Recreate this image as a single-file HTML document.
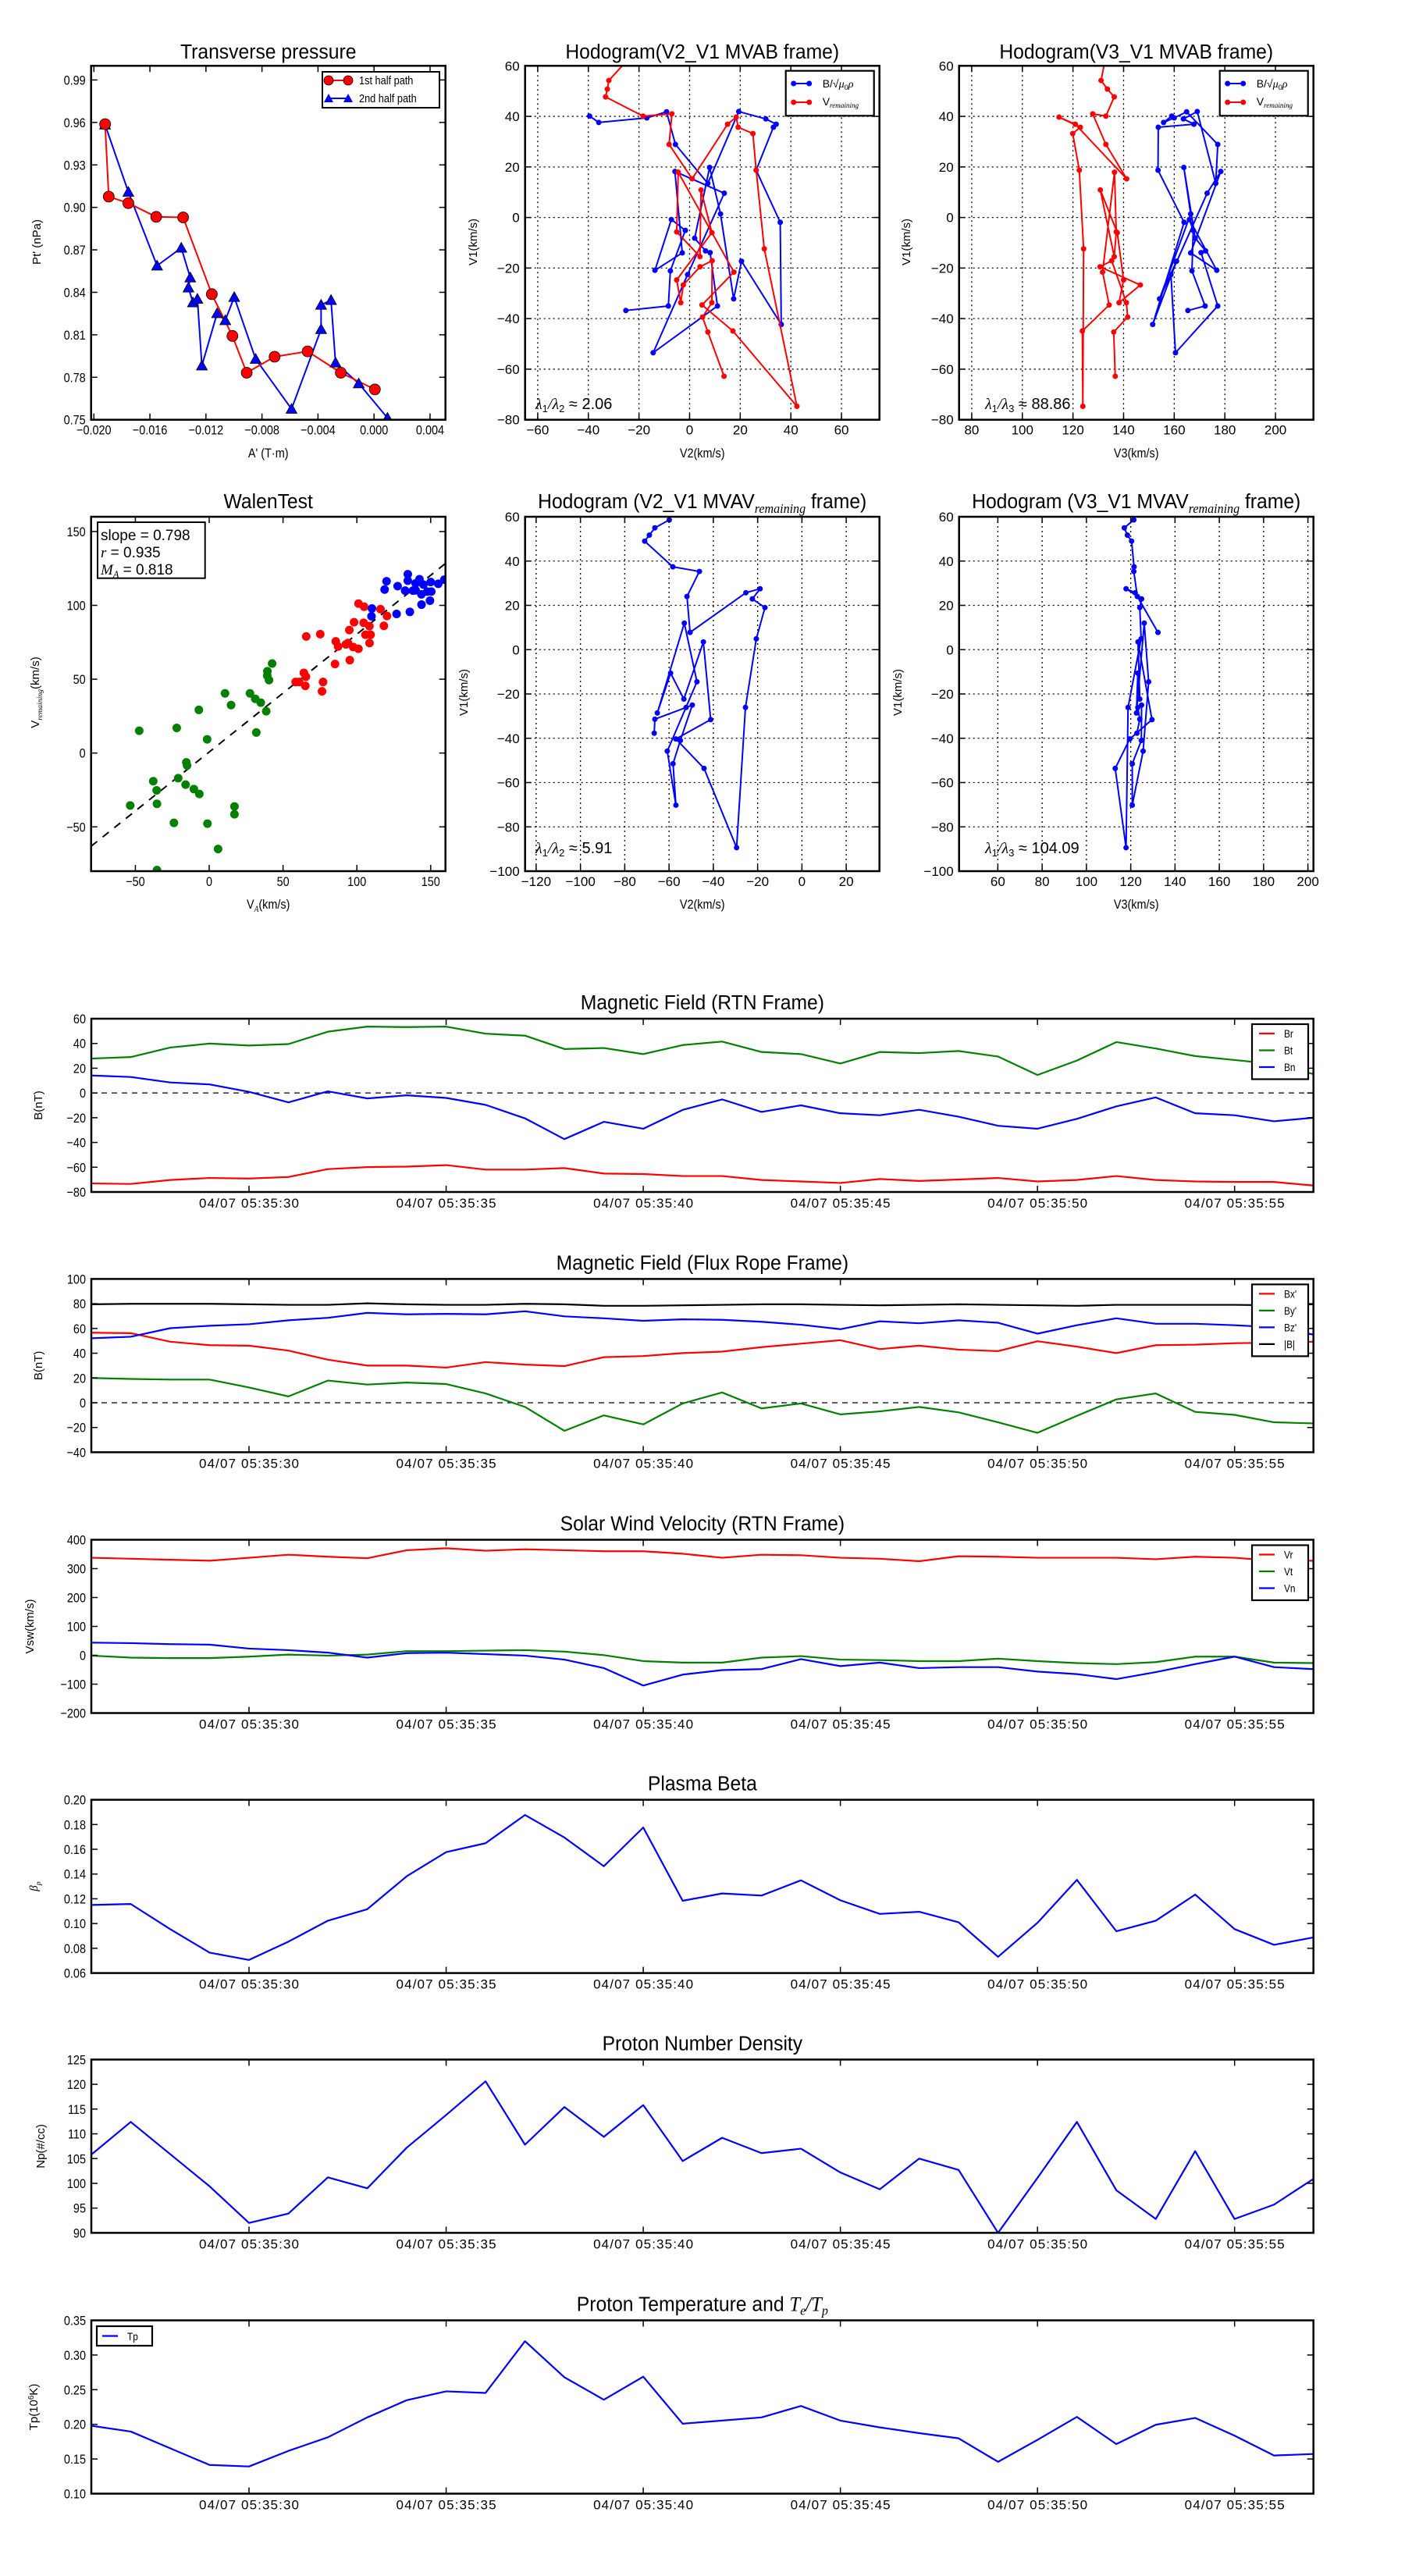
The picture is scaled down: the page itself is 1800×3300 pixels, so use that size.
<!DOCTYPE html>
<html><head><meta charset="utf-8">
<style>body{margin:0;background:#fff}svg{display:block}text{font-family:"Liberation Sans",sans-serif;fill:#000}</style>
</head><body>
<svg id="fig" xmlns="http://www.w3.org/2000/svg" width="1800" height="3300" viewBox="0 0 1800 3300"><rect width="1800" height="3300" fill="#fff"/><defs id="defs"></defs></svg>
<script>
// ---------- Transverse pressure ----------
const tpA1=[-0.0192,-0.01894,-0.01754,-0.01555,-0.01363,-0.01158,-0.01011,-0.00909,-0.0071,-0.00474,-0.00237,0.00006];
const tpP1=[0.9588,0.9076,0.903,0.8933,0.8929,0.8387,0.8092,0.7832,0.7945,0.7983,0.7832,0.7714];
const tpA2=[-0.0192,-0.01754,-0.01549,-0.01376,-0.01312,-0.01325,-0.01293,-0.01261,-0.01229,-0.0112,-0.01062,-0.00998,-0.00845,-0.00589,-0.00378,-0.00378,-0.00307,-0.00275,-0.00109,0.00096];
const tpP2=[0.9584,0.9109,0.8588,0.8714,0.8504,0.8433,0.8328,0.8353,0.7882,0.8252,0.8202,0.8366,0.7929,0.7576,0.8139,0.8311,0.8345,0.7903,0.7756,0.7513];
const tpXTicks=[-0.020,-0.016,-0.012,-0.008,-0.004,0.000,0.004];
const tpYTicks=[0.75,0.78,0.81,0.84,0.87,0.90,0.93,0.96,0.99];
// ---------- MVAB hodograms ----------
const abV1r=[64,54.2,50.8,47.7,40.1,41.0,28.9,15.3,36.9,39.7,35.7,33.2,18.7,-12.4,-74.7,-44.9,-34.6,-21.6,17.9,-5.7,-15.5,10.9,-6.0,-24.7,-33.7,-26.7,-19.5,-17.1,-33.7,-39.4,-45.3,-62.8];
const abV2r=[-23,-31.9,-32.5,-33.2,-18.4,-7.0,-8.1,1.0,15.0,18.4,19.2,25.0,26.3,29.5,42.4,17.1,4.9,17.5,-4.5,-5.1,4.1,4.5,8.8,-5.1,-3.5,-2.5,4.1,8.9,8.8,5.1,7.2,13.6];
const abV3r=[133,131.1,133.6,136.3,133.0,127.8,133.0,141.2,120.9,114.5,122.9,119.9,122.5,124.2,123.9,123.7,134.3,131.7,136.4,137.1,136.3,130.8,137.5,140.0,138.2,146.6,130.7,135.3,141.1,141.6,136.1,136.7];
const abV1b=[40.1,37.6,39.4,41.8,28.9,13.5,41.9,39.0,36.9,35.7,18.7,-1.9,-42.3,-17.3,-32.2,1.4,19.8,-8.2,-13.2,-13.9,-35.0,-53.5,-22.6,9.6,18.2,-14.0,-20.9,-0.8,-5.1,-21.1,-35.0,-36.8];
const abV2b=[-39.5,-35.9,-16.9,-9.1,-5.6,7.2,19.4,30.1,34.2,33.1,26.3,35.8,36.2,20.5,17.4,12.2,7.9,2.0,6.3,8.1,11.0,-14.4,-0.8,13.7,-5.8,-2.9,-13.7,-7.2,-1.7,-7.6,-8.4,-25.2];
const abV3b=[159.0,155.8,160.0,164.9,177.2,176.4,169.1,163.6,167.8,153.7,153.6,163.9,151.5,160.9,154.2,166.5,163.8,168.3,172.4,170.6,177.2,160.5,158.7,173.0,178.4,166.5,176.8,166.0,167.5,167.0,172.2,165.4];
const abYTicks=[-80,-60,-40,-20,0,20,40,60];
const ab2XTicks=[-60,-40,-20,0,20,40,60];
const ab3XTicks=[80,100,120,140,160,180,200];
// ---------- Walen test ----------
const wGx=[-47.4,-22.0,-7.0,-1.4,10.7,14.8,27.6,31.2,34.9,38.6,31.9,42.6,39.4,39.3,40.5,-15.5,-15.0,-21.0,-16.0,-10.4,-6.7,-37.9,-35.6,-35.4,-53.5,-23.9,-1.2,17.1,17.1,6.0,-35.4];
const wGy=[15.1,17.0,29.2,9.3,40.4,32.5,40.4,36.7,34.1,28.3,13.9,60.6,55.4,52.4,49.4,-6.3,-8.4,-17.0,-21.4,-24.4,-27.7,-19.1,-25.3,-34.4,-35.5,-47.3,-47.8,-36.2,-41.5,-65.0,-79.3];
const wRx=[65.7,75.2,85.7,87.3,85.2,95.2,94.9,98.1,101.1,104.9,104.6,108.5,105.8,109.3,108.6,94.0,92.6,101.1,97.5,116.0,120.4,118.3,64.1,65.5,65.1,58.5,60.9,77.1,76.4];
const wRy=[78.9,80.5,75.6,72.1,60.3,62.9,83.3,88.6,101.2,99.1,88.2,85.9,80.1,80.1,74.5,74.5,73.6,70.6,71.8,97.4,92.8,86.1,54.3,51.7,45.5,48.1,48.1,48.1,41.8];
const wBx=[120.1,118.8,110.2,109.9,126.9,135.9,127.6,134.5,134.5,132.7,138.0,142.4,139.8,145.1,150.0,155.1,159.2,150.4,143.7,149.5,143.8,139.8,147.7];
const wBy=[116.3,110.7,97.9,92.6,94.2,95.6,113.0,121.1,116.7,110.0,110.0,117.7,114.9,114.1,115.8,114.6,117.4,109.3,107.5,103.2,100.5,110.2,109.3];
const wSlope=0.798, wIntercept=0.7;
const wTicks=[-50,0,50,100,150];
// ---------- MVAV hodograms ----------
const avV1=[58.6,55.0,51.7,49.0,37.4,35.3,24.0,7.8,25.7,27.5,22.9,19.0,4.9,-26.1,-89.4,-53.6,-40.3,-31.6,3.5,-22.3,-10.6,-28.6,12.0,-14.5,-45.8,-70.2,-51.5,-41.0,-25.0,-26.1,-31.4,-37.7];
const avV2=[-59.9,-66.4,-68.9,-71.0,-58.3,-46.3,-51.9,-50.5,-25.3,-18.9,-22.4,-16.7,-20.6,-25.5,-29.5,-44.2,-56.9,-41.2,-44.5,-53.3,-59.3,-65.3,-53.1,-47.4,-60.8,-56.9,-58.2,-54.9,-49.5,-52.3,-66.4,-66.7];
const avV3=[121.4,117.1,118.5,120.4,121.5,121.4,123.0,132.3,122.0,117.9,124.9,124.1,124.7,118.8,117.9,113.0,119.6,129.6,123.3,124.1,123.2,122.6,126.1,128.1,125.6,120.7,120.7,124.8,124.9,123.2,124.1,122.8];
const avYTicks=[-100,-80,-60,-40,-20,0,20,40,60];
const av2XTicks=[-120,-100,-80,-60,-40,-20,0,20];
const av3XTicks=[60,80,100,120,140,160,180,200];
// ---------- Time series ----------
const tsec=[26,27,28,29,30,31,32,33,34,35,36,37,38,39,40,41,42,43,44,45,46,47,48,49,50,51,52,53,54,55,56,57];
const timeTicks=[30,35,40,45,50,55];
const timeLabels=["04/07 05:35:30","04/07 05:35:35","04/07 05:35:40","04/07 05:35:45","04/07 05:35:50","04/07 05:35:55"];
const Br=[-73.1,-73.5,-70.3,-68.7,-69.1,-67.9,-61.5,-59.9,-59.5,-58.3,-61.9,-61.9,-60.7,-65.1,-65.5,-67.1,-67.1,-70.3,-71.5,-72.7,-69.5,-71.1,-69.9,-68.7,-71.5,-70.3,-67.1,-70.3,-71.5,-71.9,-71.9,-74.8];
const Bt=[27.8,29,36.7,39.9,38.3,39.5,49.5,53.6,53.2,53.6,47.9,46.3,35.5,36.3,31.4,38.7,41.5,33.1,31.4,23.8,33.1,32.2,33.9,29.4,14.5,26.2,41.1,35.9,29.8,26.6,23.4,15.3];
const Bn=[14.1,12.9,8.5,6.9,0.9,-7.6,1.3,-4.4,-1.9,-4.0,-9.6,-20.5,-37.3,-23.3,-28.9,-13.7,-5.2,-15.3,-10.0,-16.4,-18.0,-13.6,-19.2,-26.5,-28.9,-20.9,-10.8,-3.6,-16.4,-18.0,-22.9,-20.0];
const Bx=[56.6,56.2,49.3,46.5,46.1,42.1,34.8,30.0,30.0,28.4,32.8,30.8,29.6,36.8,37.7,40.1,41.3,44.9,47.7,50.5,43.3,46.1,42.9,41.7,49.7,45.3,40.1,46.5,46.9,48.1,48.5,49.3];
const By=[20.0,19.2,18.7,18.7,12.3,5.1,17.9,14.7,16.3,15.1,7.5,-3.4,-22.7,-10.2,-17.5,-0.6,8.3,-4.6,-0.6,-9.4,-7.0,-3.4,-7.8,-15.8,-24.3,-10.6,2.7,7.5,-7.4,-9.8,-15.8,-16.7];
const Bz=[52.1,53.3,60.2,62.2,63.4,66.6,68.6,72.6,71.4,71.8,71.4,73.9,69.8,68.2,66.2,67.4,67.0,65.4,63.0,59.4,65.8,64.2,66.6,64.6,55.8,62.6,68.2,63.8,63.8,62.6,61.0,55.0];
const Bmag=[79.5,79.9,79.9,79.9,79.5,79.1,79.1,80.3,79.5,79.1,79.1,79.9,79.5,78.3,78.3,78.7,79.1,79.5,79.5,79.1,78.7,79.1,79.5,79.1,78.7,78.3,79.1,79.1,79.1,79.1,78.7,79.5];
const Vr=[337.7,334.3,330.8,327.4,337.7,348.1,341.2,336.0,363.7,370.6,362.0,367.1,363.7,360.2,360.2,351.6,337.7,348.1,346.4,337.7,334.3,325.6,342.9,341.2,337.7,337.7,337.7,332.6,341.2,337.7,327.4,327.4];
const Vt=[-1.2,-8.1,-9.8,-9.8,-4.7,2.3,-1.2,2.3,14.4,14.4,16.1,17.8,12.6,0.5,-20.2,-25.4,-25.4,-8.1,-2.9,-15.0,-16.7,-20.2,-20.2,-11.6,-20.2,-27.1,-30.6,-23.7,-4.7,-4.7,-25.4,-27.1];
const Vn=[43.8,42.1,38.6,36.9,23.1,17.8,9.2,-8.1,7.5,9.2,4.0,-1.2,-15.0,-44.4,-104.9,-66.9,-51.3,-47.9,-13.3,-37.5,-25.4,-44.4,-41.0,-41.0,-56.5,-65.2,-82.5,-58.3,-30.6,-4.7,-41.0,-47.9];
const beta=[0.115,0.1158,0.0955,0.0765,0.0706,0.0854,0.1023,0.1116,0.1382,0.1577,0.1649,0.1877,0.1695,0.1463,0.1776,0.1184,0.1243,0.1226,0.1349,0.1188,0.1078,0.1095,0.101,0.0731,0.1006,0.1353,0.0938,0.1023,0.1234,0.0955,0.0828,0.0888];
const Np=[105.8,112.4,105.9,99.4,92.0,93.9,101.2,99.0,107.2,113.8,120.6,107.8,115.4,109.4,115.8,104.5,109.2,106.1,107.0,102.2,98.8,105.0,102.7,90.0,101.1,112.4,98.6,92.8,106.5,92.8,95.7,100.9];
const Tp=[0.1979,0.1896,0.1655,0.1414,0.1392,0.1617,0.1813,0.21,0.2348,0.2476,0.2453,0.3199,0.2679,0.2355,0.2687,0.2009,0.2054,0.21,0.2265,0.2054,0.1956,0.1873,0.1798,0.1459,0.1776,0.2107,0.1715,0.1994,0.2092,0.1836,0.155,0.1572];

const NS='http://www.w3.org/2000/svg';
const svg=document.getElementById('fig');
const defs=document.getElementById('defs');
function E(tag,a,p){const e=document.createElementNS(NS,tag);for(const k in a)e.setAttribute(k,a[k]);p.appendChild(e);return e;}
function T(p,x,y,s,size,anchor,sx,rot,html){
  const t=E('text',{transform:'translate('+x+','+y+')'+(rot?' rotate('+rot+')':'')+' scale('+(sx||1)+',1)','font-size':size,'text-anchor':anchor||'middle'},p);
  if(html)t.innerHTML=s;else t.textContent=s;return t;}
function fmt(v,d){const s=Math.abs(v).toFixed(d);return (v<-1e-12?'\u2212':'')+s;}
const sb=(s,d,st)=>'<tspan font-size="65%" dy="'+d+'"'+(st?' font-style="italic" font-family="Liberation Serif"':'')+'>'+s+'</tspan><tspan dy="'+(-d)+'">\u200b</tspan>';
let clipN=0;
function axes(name,bx,by,bw,bh,xd,yd,o){
  const g=E('g',{},svg);
  
  
  const sx=v=>bx+(v-xd[0])/(xd[1]-xd[0])*bw, sy=v=>by+bh-(v-yd[0])/(yd[1]-yd[0])*bh;
  const cid='c'+(clipN++);
  const cp=E('clipPath',{id:cid},defs);E('rect',{x:bx,y:by,width:bw,height:bh},cp);
  if(o.grid){
    const gg=E('g',{stroke:'#000','stroke-width':1.3,'stroke-dasharray':'2,4'},g);
    
    
    o.xt.forEach(v=>E('line',{x1:sx(v),x2:sx(v),y1:by,y2:by+bh},gg));
    o.yt.forEach(v=>E('line',{y1:sy(v),y2:sy(v),x1:bx,x2:bx+bw},gg));
  }
  const plot=E('g',{'clip-path':'url(#'+cid+')'},g);
  
  
  const ax=E('g',{stroke:'#000','stroke-width':1.5},g);
  
  
  const xl=E('g',{},g);
  
  
  o.xt.forEach((v,i)=>{const x=sx(v);E('line',{x1:x,x2:x,y1:by+bh,y2:by+bh-8},ax);E('line',{x1:x,x2:x,y1:by,y2:by+8},ax);
    const t=T(xl,x,by+bh+(o.xoff||19),o.xl[i],o.xfs||17,'middle',o.xsc||1);
    if(o.xlen)t.setAttribute('textLength',o.xlen);});
  const yl=E('g',{},g);
  
  
  o.yt.forEach((v,i)=>{const y=sy(v);E('line',{x1:bx,x2:bx+8,y1:y,y2:y},ax);E('line',{x1:bx+bw,x2:bx+bw-8,y1:y,y2:y},ax);
    T(yl,bx-7,y+6,o.yl[i],o.yfs||17,'end',o.ysc||1);});
  E('rect',{x:bx,y:by,width:bw,height:bh,fill:'none','stroke-width':2.5},ax);
  return {g,plot,sx,sy,bx,by,bw,bh};
}
function line(A,xs,ys,color,name,w){const p=E('polyline',{points:xs.map((v,i)=>A.sx(v)+','+A.sy(ys[i])).join(' '),fill:'none',stroke:color,'stroke-width':w||2.2,'stroke-linejoin':'round'},A.plot);
  
  
  return p;}
function dots(A,xs,ys,color,r,name){const g=E('g',{fill:color},A.plot);
  
  
  xs.forEach((v,i)=>E('circle',{cx:A.sx(v),cy:A.sy(ys[i]),r:r},g));return g;}
function tris(A,xs,ys,color,r,name){const g=E('g',{fill:color,stroke:'#000','stroke-width':0.8},A.plot);
  
  
  xs.forEach((v,i)=>{const x=A.sx(v),y=A.sy(ys[i]);E('polygon',{points:(x)+','+(y-r)+' '+(x-r)+','+(y+r*0.8)+' '+(x+r)+','+(y+r*0.8)},g);});}
function title(x,y,html,name){const t=T(svg,x,y,html,26,'middle',0.95,0,true);
  
  }
function label(x,y,html,rot,name,size,sc){const t=T(svg,x,y,html,size||16,'middle',sc||1,rot,true);
  
  }

// ===== Row 1 =====
const C=[116.7,672.7,1228.7], W=454;
{
const A=axes('transverse-pressure-chart',C[0],84.3,W,453.4,[-0.0202,0.0051],[0.75,1.0],{xt:tpXTicks,xl:tpXTicks.map(v=>fmt(v,3)),yt:tpYTicks,yl:tpYTicks.map(v=>fmt(v,2)),xsc:0.85,ysc:0.85});
line(A,tpA2,tpP2,'#0000ff','second-half-line',2);
line(A,tpA1,tpP1,'#ff0000','first-half-line',2);
tris(A,tpA2,tpP2,'#0000ff',7,'second-half-markers');
const d=dots(A,tpA1,tpP1,'#ff0000',7,'first-half-markers');d.setAttribute('stroke','#000');d.setAttribute('stroke-width','0.8');
const lg=E('g',{},svg);


E('rect',{x:413,y:92,width:150,height:46,fill:'#fff',stroke:'#000','stroke-width':2},lg);
E('line',{x1:420,x2:447,y1:103,y2:103,stroke:'#f00','stroke-width':2},lg);
E('circle',{cx:421,cy:103,r:6,fill:'#f00',stroke:'#000','stroke-width':0.8},lg);E('circle',{cx:446,cy:103,r:6,fill:'#f00',stroke:'#000','stroke-width':0.8},lg);
E('line',{x1:420,x2:447,y1:126,y2:126,stroke:'#00f','stroke-width':2},lg);
E('polygon',{points:'421,120 415,131 427,131',fill:'#00f'},lg);E('polygon',{points:'446,120 440,131 452,131',fill:'#00f'},lg);
T(lg,460,108,'1st half path',15,'start',0.85);T(lg,460,131,'2nd half path',15,'start',0.85);
title(C[0]+W/2,75,'Transverse pressure','title-transverse-pressure');
label(C[0]+W/2,586,"A' (T\u00b7m)",0,'x-axis-title',17,0.85);
label(52,310,"Pt' (nPa)",-90,'y-axis-title',15);
}
function hodoLegend(x0){const lg=E('g',{},svg);
  
  
  E('rect',{x:x0,y:90.7,width:113,height:57.6,fill:'#fff',stroke:'#000','stroke-width':2.2},lg);
  E('line',{x1:x0+10,x2:x0+30,y1:107,y2:107,stroke:'#00f','stroke-width':2},lg);E('circle',{cx:x0+10,cy:107,r:3.5,fill:'#00f'},lg);E('circle',{cx:x0+30,cy:107,r:3.5,fill:'#00f'},lg);
  E('line',{x1:x0+10,x2:x0+30,y1:131,y2:131,stroke:'#f00','stroke-width':2},lg);E('circle',{cx:x0+10,cy:131,r:3.5,fill:'#f00'},lg);E('circle',{cx:x0+30,cy:131,r:3.5,fill:'#f00'},lg);
  T(lg,x0+47,112,'B/\u221a<tspan font-style="italic" font-family="Liberation Serif">\u03bc</tspan>'+sb('0',3)+'<tspan font-style="italic" font-family="Liberation Serif">\u03c1</tspan>',14,'start',1,0,true);
  T(lg,x0+47,135,'V'+sb('remaining',3,1),14,'start',1,0,true);}
function lam(x,y,a,b,val){const t=T(svg,x,y,'<tspan font-style="italic" font-family="Liberation Serif">\u03bb</tspan>'+sb(a,4)+'<tspan font-family="Liberation Serif" font-style="italic">/\u03bb</tspan>'+sb(b,4)+' \u2248 '+val,20,'start',1,0,true);
  
  }
{
const A=axes('hodogram-v2-v1-mvab',C[1],84.3,W,453.4,[-65,75],[-80,60],{grid:1,xt:ab2XTicks,xl:ab2XTicks.map(v=>fmt(v,0)),yt:abYTicks,yl:abYTicks.map(v=>fmt(v,0))});
line(A,abV2b,abV1b,'#0000ff','b-field-line',2);dots(A,abV2b,abV1b,'#0000ff',3.5,'b-field-points');
line(A,abV2r,abV1r,'#ff0000','v-remaining-line',2);dots(A,abV2r,abV1r,'#ff0000',3.5,'v-remaining-points');
hodoLegend(1006.7);lam(686,524,1,2,'2.06');
title(C[1]+W/2,75,'Hodogram(V2_V1 MVAB frame)','title-hodogram-v2-mvab');
label(C[1]+W/2,586,'V2(km/s)',0,'x-axis-title',17,0.85);label(611,310,'V1(km/s)',-90,'y-axis-title',15);
}
{
const A=axes('hodogram-v3-v1-mvab',C[2],84.3,W,453.4,[75,215],[-80,60],{grid:1,xt:ab3XTicks,xl:ab3XTicks.map(v=>fmt(v,0)),yt:abYTicks,yl:abYTicks.map(v=>fmt(v,0))});
line(A,abV3b,abV1b,'#0000ff','b-field-line',2);dots(A,abV3b,abV1b,'#0000ff',3.5,'b-field-points');
line(A,abV3r,abV1r,'#ff0000','v-remaining-line',2);dots(A,abV3r,abV1r,'#ff0000',3.5,'v-remaining-points');
hodoLegend(1562.7);lam(1262,524,1,3,'88.86');
title(C[2]+W/2,75,'Hodogram(V3_V1 MVAB frame)','title-hodogram-v3-mvab');
label(C[2]+W/2,586,'V3(km/s)',0,'x-axis-title',17,0.85);label(1166,310,'V1(km/s)',-90,'y-axis-title',15);
}
// ===== Row 2 =====
{
const A=axes('walen-test-chart',C[0],662,W,454,[-80,160],[-80,160],{xt:wTicks,xl:wTicks.map(v=>fmt(v,0)),yt:wTicks,yl:wTicks.map(v=>fmt(v,0)),xsc:0.85,ysc:0.85});
const fl=E('line',{x1:A.sx(-80),y1:A.sy(wSlope*-80+wIntercept),x2:A.sx(160),y2:A.sy(wSlope*160+wIntercept),stroke:'#000','stroke-width':2,'stroke-dasharray':'10,9'},A.plot);


dots(A,wGx,wGy,'#008000',5.5,'green-points');dots(A,wRx,wRy,'#ff0000',5.5,'red-points');dots(A,wBx,wBy,'#0000ff',5.5,'blue-points');
const bx=E('g',{},svg);


E('rect',{x:125,y:669,width:137.7,height:71.7,fill:'#fff',stroke:'#000','stroke-width':2},bx);
T(bx,129,692,'slope = 0.798',19,'start');
T(bx,129,714,'<tspan font-style="italic" font-family="Liberation Serif">r</tspan> = 0.935',19,'start',1,0,true);
T(bx,129,736,'<tspan font-style="italic" font-family="Liberation Serif">M</tspan>'+sb('A',4,1)+' = 0.818',19,'start',1,0,true);
title(C[0]+W/2,651,'WalenTest','title-walen-test');
label(C[0]+W/2,1164,'V'+sb('A',4,1)+'(km/s)',0,'x-axis-title',17,0.85);
label(50,887,'V'+sb('remaining',4,1)+'(km/s)',-90,'y-axis-title',15);
}
{
const A=axes('hodogram-v2-v1-mvav',C[1],662,W,454,[-125,35],[-100,60],{grid:1,xt:av2XTicks,xl:av2XTicks.map(v=>fmt(v,0)),yt:avYTicks,yl:avYTicks.map(v=>fmt(v,0))});
line(A,avV2,avV1,'#0000ff','velocity-line',2);dots(A,avV2,avV1,'#0000ff',3.5,'velocity-points');
lam(686,1093,1,2,'5.91');
title(C[1]+W/2,651,'Hodogram (V2_V1 MVAV'+sb('remaining',6,1)+' frame)','title-hodogram-v2-mvav');
label(C[1]+W/2,1164,'V2(km/s)',0,'x-axis-title',17,0.85);label(599,887,'V1(km/s)',-90,'y-axis-title',15);
}
{
const A=axes('hodogram-v3-v1-mvav',C[2],662,W,454,[42.5,202.5],[-100,60],{grid:1,xt:av3XTicks,xl:av3XTicks.map(v=>fmt(v,0)),yt:avYTicks,yl:avYTicks.map(v=>fmt(v,0))});
line(A,avV3,avV1,'#0000ff','velocity-line',2);dots(A,avV3,avV1,'#0000ff',3.5,'velocity-points');
lam(1262,1093,1,3,'104.09');
title(C[2]+W/2,651,'Hodogram (V3_V1 MVAV'+sb('remaining',6,1)+' frame)','title-hodogram-v3-mvav');
label(C[2]+W/2,1164,'V3(km/s)',0,'x-axis-title',17,0.85);label(1155,887,'V1(km/s)',-90,'y-axis-title',15);
}
// ===== Time series =====
function ts(name,top,yd,yt,yd2,ttl,ylab,ylx,series,zero,legend){
  const A=axes(name,117,top,1565.7,222,[26,57],yd,{xt:timeTicks,xl:timeLabels,xlen:128,xfs:17,xoff:20,yt:yt,yl:yt.map(v=>fmt(v,yd2)),ysc:0.85});
  if(zero){const z=E('line',{x1:A.bx,x2:A.bx+A.bw,y1:A.sy(0),y2:A.sy(0),stroke:'#000','stroke-width':1.3,'stroke-dasharray':'7,6'},A.plot);
    
    }
  series.forEach(s=>line(A,tsec,s[0],s[1],s[2],2.2));
  title(117+1565.7/2,top-12,ttl,'title-'+name);
  label(ylx,top+111,ylab,-90,'y-axis-title',15);
  if(legend){const lg=E('g',{},svg);
    
    
    const n=legend.length,h=n*21.5+6;
    E('rect',{x:1604,y:top+7,width:72,height:h,fill:'#fff',stroke:'#000','stroke-width':2.2},lg);
    legend.forEach((l,i)=>{const y=top+19+i*21.5;E('line',{x1:1613,x2:1633,y1:y,y2:y,stroke:l[1],'stroke-width':2.2},lg);T(lg,1645,y+5,l[0],14,'start',0.85);});}
  return A;}
ts('magnetic-field-rtn',1305,[-80,60],[-80,-60,-40,-20,0,20,40,60],0,'Magnetic Field (RTN Frame)','B(nT)',54,[[Br,'#ff0000','br-line'],[Bt,'#008000','bt-line'],[Bn,'#0000ff','bn-line']],1,[['Br','#f00'],['Bt','#008000'],['Bn','#00f']]);
ts('magnetic-field-flux-rope',1638.4,[-40,100],[-40,-20,0,20,40,60,80,100],0,'Magnetic Field (Flux Rope Frame)','B(nT)',54,[[Bx,'#ff0000','bx-line'],[By,'#008000','by-line'],[Bz,'#0000ff','bz-line'],[Bmag,'#000000','bmag-line']],1,[["Bx'",'#f00'],["By'",'#008000'],["Bz'",'#00f'],['|B|','#000']]);
ts('solar-wind-velocity',1972.5,[-200,400],[-200,-100,0,100,200,300,400],0,'Solar Wind Velocity (RTN Frame)','Vsw(km/s)',43,[[Vr,'#ff0000','vr-line'],[Vt,'#008000','vt-line'],[Vn,'#0000ff','vn-line']],0,[['Vr','#f00'],['Vt','#008000'],['Vn','#00f']]);
ts('plasma-beta',2305.6,[0.06,0.20],[0.06,0.08,0.10,0.12,0.14,0.16,0.18,0.20],2,'Plasma Beta','<tspan font-style="italic" font-family="Liberation Serif">\u03b2</tspan>'+sb('p',4,1),48,[[beta,'#0000ff','beta-line']],0,null);
ts('proton-density',2638.4,[90,125],[90,95,100,105,110,115,120,125],0,'Proton Number Density','Np(#/cc)',57,[[Np,'#0000ff','np-line']],0,null);
ts('proton-temperature',2972.5,[0.10,0.35],[0.10,0.15,0.20,0.25,0.30,0.35],2,'Proton Temperature and <tspan font-style="italic" font-family="Liberation Serif">T</tspan>'+sb('e',5,1)+'<tspan font-style="italic" font-family="Liberation Serif">/T</tspan>'+sb('p',5,1),'Tp(10'+sb('6',-5)+'K)',48,[[Tp,'#0000ff','tp-line']],0,null);
{const lg=E('g',{},svg);


E('rect',{x:124,y:2980,width:71,height:25,fill:'#fff',stroke:'#000','stroke-width':2.2},lg);
E('line',{x1:131,x2:151,y1:2992.5,y2:2992.5,stroke:'#00f','stroke-width':2.2},lg);
T(lg,163,2998,'Tp',14,'start',0.85);}
</script>
</body></html>
